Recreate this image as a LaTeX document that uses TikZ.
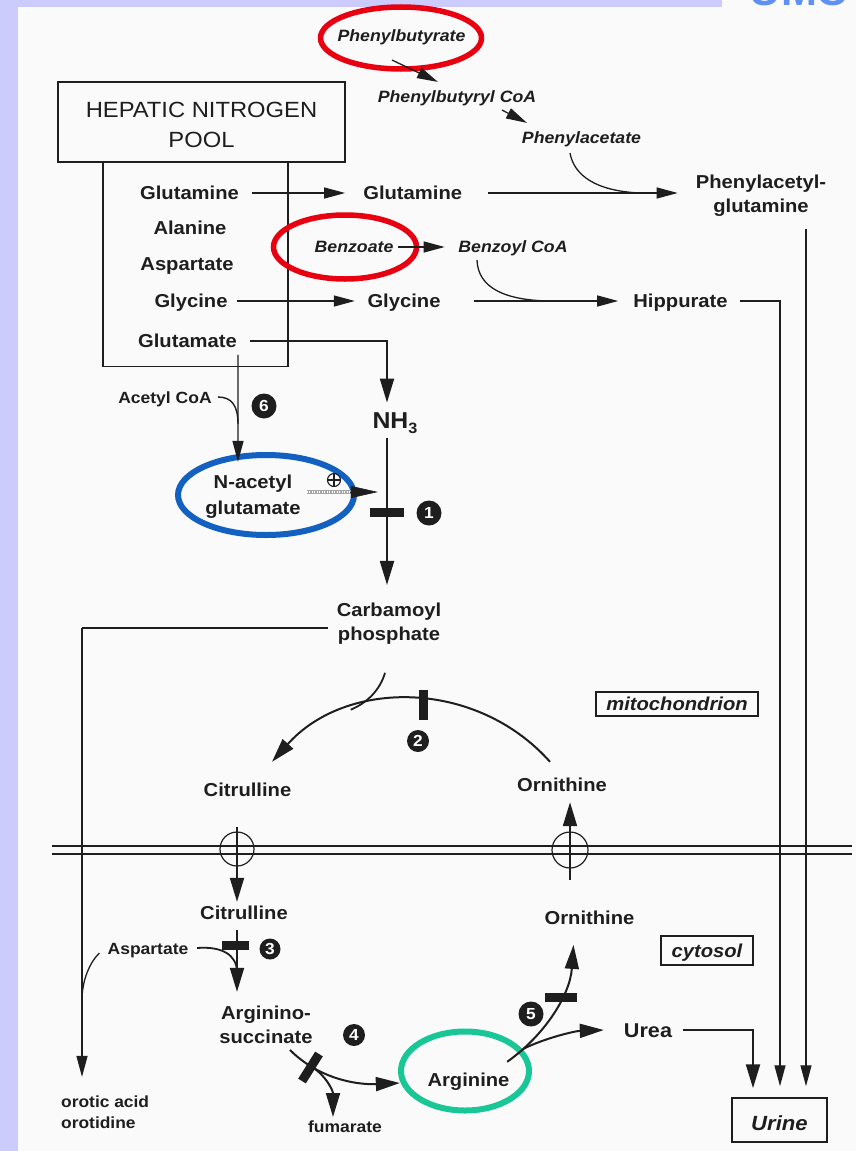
\documentclass[tikz,border=0pt]{standalone}
\usepackage{fontspec}
\setmainfont{Liberation Sans}[FakeStretch=1.08]
\usetikzlibrary{arrows.meta,calc,shapes.geometric}
\definecolor{lav}{RGB}{204,204,252}
\definecolor{umcblue}{RGB}{95,145,245}
\definecolor{ringred}{RGB}{232,0,16}
\definecolor{ringblue}{RGB}{18,96,192}
\definecolor{ringgreen}{RGB}{24,198,150}
\definecolor{ink}{RGB}{30,30,30}
\definecolor{paper}{RGB}{250,250,250}
\begin{document}
\begin{tikzpicture}[x=1pt,y=-1pt,
  lbl/.style={font=\fontsize{18.7}{24}\selectfont\bfseries, inner sep=0pt, text height=13.4pt, text depth=0pt, text=ink},
  lblm/.style={font=\fontsize{18.7}{24}\selectfont\bfseries, inner sep=0pt, align=center, text=ink},
  itl/.style={font=\fontsize{16.4}{20}\selectfont\bfseries\itshape, inner sep=0pt, text height=11.7pt, text depth=0pt, text=ink},
  sml/.style={font=\fontsize{16.2}{21}\selectfont\bfseries, inner sep=0pt, text height=11.6pt, text depth=0pt, text=ink},
  badge/.style={circle, fill=ink, text=white, inner sep=0pt, font=\fontsize{16}{16}\selectfont\bfseries},
  ring/.style={ellipse, draw, inner sep=0pt},
  thinline/.style={draw=ink, line width=1.3pt},
  curveline/.style={draw=ink, line width=1.8pt},
  thinarr/.style={draw=ink, line width=1.3pt, -{Triangle[length=21pt,width=11pt]}},
  arr/.style={draw=ink, line width=2pt, -{Triangle[length=24pt,width=14pt]}},
  blockbar/.style={draw=ink, line width=9pt},
  tbox/.style={draw=ink, line width=1.4pt, inner sep=0pt, text=ink},
  porter/.style={circle, draw=ink, line width=1.2pt, inner sep=0pt}
]
% page and frame strips
\fill[paper] (0,0) rectangle (856,1151);
\useasboundingbox (0,0) rectangle (856,1151);
\fill[lav] (0,0) rectangle (18,1151);
\fill[lav] (0,0) rectangle (722,7);
\node[anchor=base, text=umcblue, font=\fontsize{40}{40}\selectfont\bfseries, inner sep=0pt] (umc) at (799,5.5) {UMC};

% hepatic nitrogen pool
\node[draw=ink, line width=1.3pt, minimum width=185pt, minimum height=204pt, inner sep=0pt, anchor=north] (pool) at (195.5,162) {};
\node[draw=ink, line width=1.5pt, minimum width=287pt, minimum height=80pt, inner sep=0pt, fill=paper] (hnp) at (201.5,122) {};
\node[font=\fontsize{22}{30}\selectfont, align=center, inner sep=0pt, text=ink] (hnptxt) at (201.5,125) {HEPATIC NITROGEN\\POOL};

\node[lbl] (glnL) at (189.5,193) {Glutamine};
\node[lbl] (ala) at (190,228) {Alanine};
\node[lbl] (aspP) at (187,264) {Aspartate};
\node[lbl] (glyL) at (191,301) {Glycine};
\node[lbl] (glu) at (187.5,341) {Glutamate};

\node[lbl] (glnR) at (412.7,193) {Glutamine};
\node[lbl] (glyR) at (404,301) {Glycine};
\node[lbl] (hip) at (680.5,301) {Hippurate};
\node[lblm] (pag) at (761,195.9) {Phenylacetyl-\\glutamine};

% alternative pathway drugs
\node[ring, draw=ringred, line width=5.5pt, minimum width=161pt, minimum height=62pt] (pbRing) at (401,38) {};
\node[ring, draw=ringred, line width=5.5pt, minimum width=143pt, minimum height=64pt] (bzRing) at (345,247) {};
\node[itl] (pb) at (401.5,36) {Phenylbutyrate};
\node[itl] (pbcoa) at (457,97) {Phenylbutyryl CoA};
\node[itl] (pa) at (581.5,138) {Phenylacetate};
\node[itl] (bz) at (354,247) {Benzoate};
\node[itl] (bzcoa) at (513,247) {Benzoyl CoA};

% NAGS / CPS region
\node[lbl, font=\fontsize{23}{23}\selectfont\bfseries, text height=16.5pt] (nh3) at (395,420) {NH\raisebox{-5pt}{\fontsize{15}{15}\selectfont 3}};
\node[ring, draw=ringblue, line width=6pt, minimum width=176pt, minimum height=80pt] (nagRing) at (266,495) {};
\node[lblm, font=\fontsize{18.7}{25.5}\selectfont\bfseries] (nag) at (253,496.6) {N-acetyl\\glutamate};
\node[sml] (acoa) at (165,398) {Acetyl CoA};
\node[lblm] (carb) at (389,623.9) {Carbamoyl\\phosphate};

% mitochondrial metabolites
\node[lbl] (citM) at (247.5,790) {Citrulline};
\node[lbl] (ornM) at (562,785) {Ornithine};
\node[tbox, minimum width=162pt, minimum height=24pt, font=\fontsize{18.7}{18.7}\selectfont\bfseries\itshape, text height=13.4pt, text depth=0pt] (mito) at (677,704) {mitochondrion};

% cytosolic metabolites
\node[lbl] (citC) at (244,913) {Citrulline};
\node[lbl] (ornC) at (589.5,918) {Ornithine};
\node[sml] (aspC) at (148,949) {Aspartate};
\node[lblm] (argsuc) at (266,1024.9) {Arginino-\\succinate};
\node[ring, draw=ringgreen, line width=6pt, minimum width=128pt, minimum height=79pt] (argRing) at (465,1071) {};
\node[lbl] (arg) at (468.5,1080) {Arginine};
\node[sml] (fum) at (345,1127) {fumarate};
\node[font=\fontsize{16.1}{21}\selectfont\bfseries, align=left, inner sep=0pt, anchor=west, text=ink] (oro) at (61,1112.5) {orotic acid\\orotidine};
\node[lbl, font=\fontsize{20}{20}\selectfont\bfseries, text height=14.3pt] (urea) at (648,1030) {Urea};
\node[tbox, minimum width=92pt, minimum height=29pt, font=\fontsize{18.7}{18.7}\selectfont\bfseries\itshape, text height=13.4pt, text depth=0pt] (cyto) at (707,950.5) {cytosol};
\node[tbox, line width=1.5pt, minimum width=95pt, minimum height=44pt, font=\fontsize{20.5}{20.5}\selectfont\bfseries\itshape, text height=20.7pt, text depth=0pt] (urine) at (779.5,1120) {Urine};

% enzyme numbers
\node[badge, minimum size=25pt] (n1) at (429,513) {1};
\node[badge, minimum size=22pt] (n2) at (418,741) {2};
\node[badge, minimum size=21pt] (n3) at (270,949) {3};
\node[badge, minimum size=22pt] (n4) at (354,1035) {4};
\node[badge, minimum size=25pt] (n5) at (531,1014) {5};
\node[badge, minimum size=25pt] (n6) at (264,406) {6};

% mitochondrial membrane and transporters
\draw[thinline] (52,846) -- (852,846);
\draw[thinline] (52,854) -- (852,854);
\node[porter, minimum size=34pt] (tCit) at (237,849) {};
\node[porter, minimum size=36pt] (tOrn) at (570,850) {};
\coordinate (mitoEnd) at (328,628);
\coordinate (mitoCorner) at (82,628);
\draw[thinline] (mitoEnd) -- (mitoCorner);
\draw[thinarr] (mitoCorner) -- ($(oro.north west)+(21,-19)$);

% pool outflows
\draw[thinarr] ($(glnL.east)+(13,0)$) -- ($(glnR.west)+(-18,0)$);
\draw[thinarr] ($(glyL.east)+(9.5,0)$) -- ($(glyR.west)+(-12.5,0)$);
\draw[thinarr] ($(glnR.east)+(26,0)$) -- ($(pag.west)+(-18,-2.9)$);
\draw[thinarr] ($(glyR.east)+(33,0)$) -- ($(hip.west)+(-15,0)$);

% phenylbutyrate and benzoate conjugation
\draw[thinarr] ($(pb.south)+(-9.5,18)$) -- ($(pbcoa.north)+(-19,-9)$);
\draw[thinarr] ($(pbcoa.south)+(45,7)$) -- ($(pa.north)+(-54.5,-9)$);
\coordinate (paJoin) at (640,193);
\draw[thinline] ($(pa.south)+(-11.5,9)$) .. controls (574,175) and (595,191) .. (paJoin);
\draw[thinarr] ($(bz.east)+(4.6,0)$) -- ($(bzcoa.west)+(-13.5,0)$);
\coordinate (bzJoin) at (548,301);
\draw[thinline] ($(bzcoa.south)+(-36,7)$) .. controls (478,288) and (505,300) .. (bzJoin);

% glutamate to ammonia and carbamoyl phosphate
\draw[arr] ($(glu.east)+(13,0)$) -| ($(nh3.north)+(-8,-9)$);
\draw[arr] ($(nh3.south)+(-8,10)$) -- ($(carb.north)+(-2,-18)$);
\draw[blockbar] (370,512) -- (404,512);

% N-acetylglutamate synthesis and activation
\coordinate (acJoin) at (238,424);
\draw[thinarr] ($(glu.south east)+(1,7)$) -- ($(nag.north)+(-15,-13)$);
\draw[curveline, line width=1.4pt] ($(acoa.east)+(6,-1)$) .. controls (232,397) and (238,406) .. (acJoin);
\draw[line width=4.5pt, gray!70] ($(nag.east)+(6,-4.6)$) coordinate (actS) -- ++(44,0) coordinate (actE);
\draw[line width=1.2pt, white, dash pattern=on 1pt off 1.5pt] (actS) -- (actE);
\draw[draw=ink, line width=0.6pt, -{Triangle[length=27pt,width=12pt]}] ($(actE)+(-1,0)$) -- ($(actE)+(27,0)$);
\node[circle, draw=ink, line width=1.1pt, minimum size=13pt, inner sep=0pt] (plus) at (334,480) {};
\draw[draw=ink, line width=1.1pt] (plus.north) -- (plus.south);
\draw[draw=ink, line width=1.1pt] (plus.west) -- (plus.east);

% ornithine transcarbamylase step
\coordinate (arcS) at ($(ornM.north)+(-12,-16.3)$);
\draw[arr] (arcS) .. controls +(-74,-83) and +(74,-83) .. ($(citM.north)+(24.5,-21.3)$);
\coordinate (cpJoin) at (350.7,709.7);
\draw[curveline] ($(carb.south)+(-4,28)$) .. controls (380,690) and (367,703) .. (cpJoin);
\draw[blockbar] (423,690) -- (423,720);

% citrulline export and argininosuccinate synthesis
\draw[arr] ($(citM.south)+(-10.5,30)$) -- ($(citC.north)+(-7,-4.3)$);
\draw[arr] ($(citC.south)+(-7,10.3)$) -- ($(argsuc.north)+(-29,-14)$);
\draw[blockbar] (222,945) -- (249,945);
\coordinate (aspJoin) at (237,972);
\draw[curveline] ($(aspC.east)+(8.6,-1)$) .. controls (222,946) and (237,955) .. (aspJoin);
\coordinate (oroJoin) at (82,1000);
\draw[thinline] ($(aspC.west)+(-8,4)$) .. controls (90,962) and (82,980) .. (oroJoin);

% argininosuccinate lyase
\coordinate (fumJoin) at (312.6,1067.3);
\draw[arr] ($(argsuc.south)+(24,6)$) .. controls (318,1078) and (355,1085) .. ($(arg.west)+(-27.5,3)$);
\draw[blockbar] (302,1081) -- (319,1054);
\draw[arr] (fumJoin) .. controls (325,1075) and (333,1090) .. ($(fum.north)+(-12,-4)$);

% arginase
\coordinate (ureaJoin) at (523,1049);
\draw[arr] ($(arg.north east)+(-2.5,-11.3)$) .. controls (545,1035) and (570,995) .. ($(ornC.south)+(-16,20)$);
\draw[arr] (ureaJoin) .. controls (545,1038) and (575,1031) .. ($(urea.west)+(-20,0)$);
\draw[blockbar] (545,997) -- (577,997);

% ornithine import
\draw[arr] ($(ornC.north)+(-19.5,-31.3)$) -- ($(ornM.south)+(8,10.3)$);

% excretion
\draw[arr, line width=2.2pt] ($(urea.east)+(11,0)$) -| ($(urine.north)+(-26.5,-9)$);
\draw[thinarr] ($(hip.east)+(12,0)$) -| ($(urine.north)+(0.5,-11)$);
\draw[thinarr] ($(pag.south)+(45,12)$) -- ($(urine.north)+(26.5,-11)$);
\end{tikzpicture}
\end{document}
